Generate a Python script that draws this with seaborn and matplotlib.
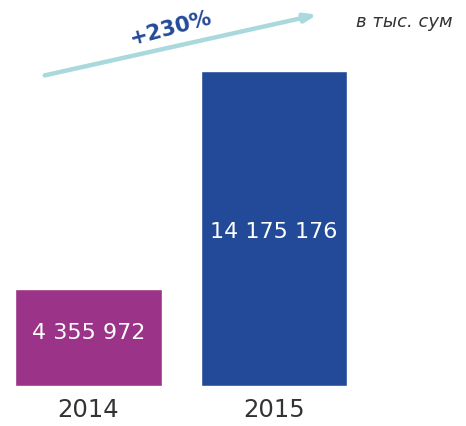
import pandas as pd
import matplotlib
matplotlib.use('Agg')
import matplotlib.pyplot as plt
import seaborn as sns

years = ['2014', '2015']
values = [4355972, 14175176]
colors = ['#9B3388', '#234A98']
growth_label = '+230%'
unit_label = 'в тыс. сум'

sns.set_style('white')
plt.rcParams['font.family'] = ['DejaVu Sans']

W, H = 466, 426
fig = plt.figure(figsize=(W / 100, H / 100), dpi=100)
# axes spans from the bar baseline (40 px above the bottom) to the top
ax = fig.add_axes([0, 40 / H, 1, 386 / H])

df = pd.DataFrame({'year': years, 'value': values})
sns.barplot(data=df, x='year', y='value', hue='year', palette=colors,
            width=0.79, legend=False, ax=ax, saturation=1)

ax.set_xlim(-88.5 / 185.5, (W - 88.5) / 185.5)
ax.set_ylim(0, values[1] * 386 / 315)
ax.axis('off')

label_pos = [0.55, 0.49]  # vertical position of value labels, fraction of bar
for i, v in enumerate(values):
    txt = f'{v:,}'.replace(',', ' ')
    ax.text(i, v * label_pos[i], txt, ha='center', va='center',
            color='white', fontsize=16)
    ax.text(i, -values[1] * 0.075, years[i], ha='center', va='center',
            color='#333333', fontsize=17.5, clip_on=False)


def fx(px):
    return px / W


def fy(py):
    return 1 - py / H


ax.annotate('', xy=(fx(320), fy(14)), xytext=(fx(42), fy(76)),
            xycoords='figure fraction', textcoords='figure fraction',
            arrowprops=dict(arrowstyle='-|>,head_length=0.7,head_width=0.25',
                            color='#A9D9DC', lw=3.2))
fig.text(fx(171), fy(28), growth_label, rotation=15, ha='center', va='center',
         color='#234A98', fontsize=15.5, fontweight='bold')
fig.text(fx(404), fy(22), unit_label, ha='center', va='center',
         color='#333333', fontsize=13, style='italic')

fig.savefig('out.png', dpi=100)
